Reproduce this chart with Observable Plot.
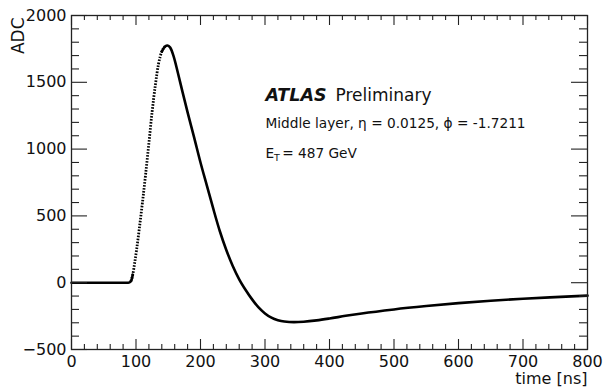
<!DOCTYPE html>
<html>
<head>
<meta charset="utf-8">
<script src="https://cdn.jsdelivr.net/npm/d3@7"></script>
<script src="https://cdn.jsdelivr.net/npm/@observablehq/plot@0.6"></script>
<style>
  html, body { margin: 0; padding: 0; background: #fff; }
</style>
</head>
<body>
<div id="chart"></div>
<script>
// pulse shape
const timeNs = [0, 88, 92, 95, 98, 101, 105, 110, 115, 120, 125, 130, 135, 140, 145, 149, 153, 158, 165, 172, 180, 190, 200, 210, 220, 230, 240, 250, 260, 270, 280, 290, 300, 310, 320, 330, 345, 360, 380, 400, 425, 450, 500, 550, 600, 650, 700, 750, 800];
const adcValues = [0, 0, 10, 60, 150, 250, 400, 600, 815, 1045, 1280, 1480, 1640, 1730, 1768, 1776, 1760, 1700, 1570, 1430, 1275, 1090, 900, 725, 550, 385, 245, 125, 25, -55, -125, -185, -230, -262, -281, -291, -295, -292, -282, -268, -248, -230, -200, -175, -153, -135, -120, -108, -97];

const xMajorTicks = [0, 100, 200, 300, 400, 500, 600, 700, 800];
const xMinorTicks = [20, 40, 60, 80, 120, 140, 160, 180, 220, 240, 260, 280, 320, 340, 360, 380, 420, 440, 460, 480, 520, 540, 560, 580, 620, 640, 660, 680, 720, 740, 760, 780];
const yMajorTicks = [-500, 0, 500, 1000, 1500, 2000];
const yMinorTicks = [-400, -300, -200, -100, 100, 200, 300, 400, 600, 700, 800, 900, 1100, 1200, 1300, 1400, 1600, 1700, 1800, 1900];

const pulse = timeNs.map((t, i) => ({t, v: adcValues[i]}));

const W = 605, H = 388;
const mL = 71, mR = 18, mT = 15, mB = 39;
const fW = W - mL - mR, fH = H - mT - mB;
const font = "'DejaVu Sans', Verdana, sans-serif";
const ink = "#111";

const chart = Plot.plot({
  width: W, height: H,
  marginLeft: mL, marginRight: mR, marginTop: mT, marginBottom: mB,
  style: {fontFamily: font, fontSize: "16px", color: ink, background: "#fff"},
  x: {domain: [0, 800], axis: null},
  y: {domain: [-500, 2000], axis: null},
  marks: [
    // curve: dotted steep rising edge, solid elsewhere
    Plot.line(pulse.filter(d => d.t >= 92 && d.t <= 145), {x: "t", y: "v", stroke: "#000", strokeWidth: 2.8, strokeDasharray: "1.6,1.4", strokeLinecap: "butt", curve: "monotone-x"}),
    Plot.line(pulse.filter(d => d.t <= 95), {x: "t", y: "v", stroke: "#000", strokeWidth: 2.6, curve: "monotone-x"}),
    Plot.line(pulse.filter(d => d.t >= 140), {x: "t", y: "v", stroke: "#000", strokeWidth: 2.6, curve: "monotone-x"}),
    // ticks inside the frame on all four sides
    Plot.ruleX(xMajorTicks, {x: d => d, insetTop: fH - 10, stroke: "#222", strokeWidth: 1.1}),
    Plot.ruleX(xMinorTicks, {x: d => d, insetTop: fH - 5, stroke: "#222", strokeWidth: 1.1}),
    Plot.ruleX(xMajorTicks, {x: d => d, insetBottom: fH - 10, stroke: "#222", strokeWidth: 1.1}),
    Plot.ruleX(xMinorTicks, {x: d => d, insetBottom: fH - 5, stroke: "#222", strokeWidth: 1.1}),
    Plot.ruleY(yMajorTicks, {y: d => d, insetRight: fW - 16, stroke: "#222", strokeWidth: 1.1}),
    Plot.ruleY(yMinorTicks, {y: d => d, insetRight: fW - 8, stroke: "#222", strokeWidth: 1.1}),
    Plot.ruleY(yMajorTicks, {y: d => d, insetLeft: fW - 16, stroke: "#222", strokeWidth: 1.1}),
    Plot.ruleY(yMinorTicks, {y: d => d, insetLeft: fW - 8, stroke: "#222", strokeWidth: 1.1}),
    Plot.frame({stroke: "#222", strokeWidth: 1.3}),
    Plot.axisX({ticks: xMajorTicks, tickFormat: d3.format("d"), tickSize: 0, tickPadding: 6, label: null, fontSize: 16}),
    Plot.axisY({ticks: yMajorTicks, tickFormat: d3.format("d"), tickSize: 0, tickPadding: 5, label: null, fontSize: 16}),
    // axis titles
    Plot.text(["ADC"], {text: d => d, frameAnchor: "top-left", rotate: -90, textAnchor: "end", lineAnchor: "middle", dx: -53, dy: 2, fontSize: 17, fill: ink}),
    Plot.text(["time [ns]"], {text: d => d, frameAnchor: "bottom-right", textAnchor: "end", lineAnchor: "middle", dx: 0, dy: 29, fontSize: 16, fill: ink}),
    // annotations
    Plot.text(["ATLAS"], {text: d => d, frameAnchor: "top-left", textAnchor: "start", lineAnchor: "middle", dx: 194, dy: 80.3, fontSize: 17.5, fontWeight: "bold", fontStyle: "italic", fill: ink}),
    Plot.text(["Preliminary"], {text: d => d, frameAnchor: "top-left", textAnchor: "start", lineAnchor: "middle", dx: 264, dy: 80.3, fontSize: 17, fill: ink}),
    Plot.text(["Middle layer, η = 0.0125, ϕ = -1.7211"], {text: d => d, frameAnchor: "top-left", textAnchor: "start", lineAnchor: "middle", dx: 194, dy: 108.6, fontSize: 13.7, fill: ink}),
    Plot.text(["E"], {text: d => d, frameAnchor: "top-left", textAnchor: "start", lineAnchor: "middle", dx: 194, dy: 137.9, fontSize: 13.7, fill: ink}),
    Plot.text(["T"], {text: d => d, frameAnchor: "top-left", textAnchor: "start", lineAnchor: "middle", dx: 202.5, dy: 142, fontSize: 9.5, fill: ink}),
    Plot.text(["= 487 GeV"], {text: d => d, frameAnchor: "top-left", textAnchor: "start", lineAnchor: "middle", dx: 210.7, dy: 137.9, fontSize: 13.7, fill: ink})
  ]
});
document.getElementById("chart").appendChild(chart);
</script>
</body>
</html>
